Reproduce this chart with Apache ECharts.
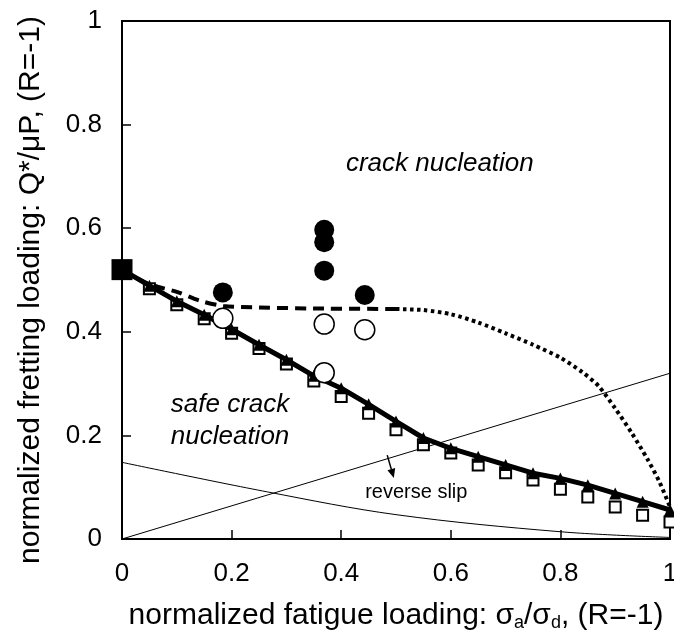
<!DOCTYPE html>
<html>
<head>
<meta charset="utf-8">
<script src="https://cdn.jsdelivr.net/npm/echarts@6/dist/echarts.min.js"></script>
<style>html,body{margin:0;padding:0;background:#fff}#c{width:674px;height:642px}</style>
</head>
<body>
<div id="c"></div>
<script>
// ---- data ----
const xGrid = [0,0.05,0.1,0.15,0.2,0.25,0.3,0.35,0.4,0.45,0.5,0.55,0.6,0.65,0.7,0.75,0.8,0.85,0.9,0.95,1.0];
const triangleY = [0.52,0.489,0.459,0.433,0.405,0.375,0.346,0.315,0.291,0.26,0.227,0.195,0.175,0.159,0.143,0.127,0.117,0.104,0.088,0.072,0.056];
const squareX = [0.05,0.1,0.15,0.2,0.25,0.3,0.35,0.4,0.45,0.5,0.55,0.6,0.65,0.7,0.75,0.8,0.85,0.9,0.95,1.0];
const squareY = [0.483,0.452,0.425,0.397,0.368,0.338,0.305,0.275,0.243,0.211,0.182,0.166,0.143,0.128,0.114,0.096,0.081,0.062,0.046,0.033];
const startPoint = [[0, 0.52]];
const dashedX = [0,0.05,0.1,0.142,0.185,0.25,0.35,0.5];
const dashedY = [0.52,0.492,0.477,0.46,0.45,0.447,0.445,0.444];
const dottedX = [0.5,0.55,0.6,0.65,0.7,0.75,0.8,0.84,0.87,0.9,0.93,0.96,0.98,1.0];
const dottedY = [0.444,0.442,0.434,0.418,0.397,0.375,0.35,0.322,0.295,0.252,0.205,0.152,0.112,0.062];
const filledCircles = [[0.184,0.476],[0.369,0.597],[0.369,0.573],[0.369,0.518],[0.443,0.471]];
const openCircles = [[0.184,0.426],[0.369,0.415],[0.443,0.404],[0.369,0.321]];
const thinRisingX = [0,1];
const thinRisingY = [0,0.32];
const thinFallingX = [0,0.265,0.5,0.8,1];
const thinFallingY = [0.148,0.091,0.047,0.014,0.003];
const xTicks = ['0','0.2','0.4','0.6','0.8','1'];
const yTicks = ['0','0.2','0.4','0.6','0.8','1'];

const zip = (xs, ys) => xs.map((x, i) => [x, ys[i]]);
const FONT = '"Liberation Sans", Arial, Helvetica, sans-serif';

const chart = echarts.init(document.getElementById('c'), null, {renderer: 'canvas'});
const option = {
  animation: false,
  backgroundColor: '#fff',
  grid: {left: 122, right: 4, top: 21, bottom: 103, show: true, borderColor: '#000', borderWidth: 2,
    containLabel: false, outerBoundsMode: 'none'},
  xAxis: {
    type: 'value', min: 0, max: 1, interval: 0.2,
    axisLine: {show: true, lineStyle: {color: '#000', width: 2}},
    axisTick: {show: true, inside: true, length: 9, lineStyle: {color: '#000', width: 1.5}},
    splitLine: {show: false},
    axisLabel: {color: '#000', fontSize: 26, fontFamily: FONT, margin: 22, hideOverlap: false,
      formatter: v => xTicks[Math.round(v / 0.2)]},
    name: 'normalized fatigue loading: {s|σ}{sub|a}{t|/}{s|σ}{sub|d}{t|, (R=-1)}',
    nameLocation: 'middle', nameGap: 60,
    nameTextStyle: {color: '#000', fontSize: 30, fontFamily: FONT,
      rich: {
        s: {fontSize: 30, fontFamily: FONT, color: '#000'},
        t: {fontSize: 30, fontFamily: FONT, color: '#000'},
        sub: {fontSize: 18, fontFamily: FONT, color: '#000', padding: [15, 0, 0, 0]}
      }}
  },
  yAxis: {
    type: 'value', min: 0, max: 1, interval: 0.2,
    axisLine: {show: true, lineStyle: {color: '#000', width: 2}},
    axisTick: {show: true, inside: true, length: 9, lineStyle: {color: '#000', width: 1.5}},
    splitLine: {show: false},
    axisLabel: {color: '#000', fontSize: 26, fontFamily: FONT, margin: 20,
      formatter: v => yTicks[Math.round(v / 0.2)]},
    name: 'normalized fretting loading: Q*/μP, (R=-1)',
    nameLocation: 'middle', nameGap: 76, nameRotate: 90,
    nameTextStyle: {color: '#000', fontSize: 30, fontFamily: FONT, padding: [0, 20, 0, 0]}
  },
  series: [
    {type: 'line', data: zip(thinRisingX, thinRisingY), symbol: 'none', z: 1,
      lineStyle: {color: '#000', width: 1}},
    {type: 'line', data: zip(thinFallingX, thinFallingY), symbol: 'none', smooth: 0.35, z: 1,
      lineStyle: {color: '#000', width: 1}},
    {type: 'line', data: zip(dashedX, dashedY), symbol: 'none', smooth: 0.3, z: 2,
      lineStyle: {color: '#000', width: 4, type: [11, 7]}},
    {type: 'line', data: zip(dottedX, dottedY), symbol: 'none', smooth: 0.25, z: 2,
      lineStyle: {color: '#000', width: 4, type: [3.5, 3.5]}},
    {type: 'scatter', data: zip(squareX, squareY), symbol: 'rect', symbolSize: 11, z: 3,
      itemStyle: {color: '#fff', borderColor: '#000', borderWidth: 2, opacity: 1}},
    {type: 'line', data: zip(xGrid, triangleY), symbol: 'triangle', symbolSize: 12, showAllSymbol: true, z: 4,
      lineStyle: {color: '#000', width: 5}, itemStyle: {color: '#000', borderWidth: 0, opacity: 1}},
    {type: 'scatter', data: startPoint, symbol: 'rect', symbolSize: 21, z: 5,
      itemStyle: {color: '#000', opacity: 1}},
    {type: 'scatter', data: filledCircles, symbol: 'circle', symbolSize: 20, z: 5,
      itemStyle: {color: '#000', opacity: 1}},
    {type: 'scatter', data: openCircles, symbol: 'circle', symbolSize: 20, z: 5,
      itemStyle: {color: '#fff', borderColor: '#000', borderWidth: 1.5, opacity: 1}}
  ]
};
chart.setOption(option);

// annotations placed in data coordinates
const P = (x, y) => chart.convertToPixel({gridIndex: 0}, [x, y]);
const a0 = P(0.484, 0.162), a1 = P(0.496, 0.118);
const ang = Math.atan2(a1[1] - a0[1], a1[0] - a0[0]);
const hl = 9, hw = 4;
const tip = a1;
const base = [tip[0] - hl * Math.cos(ang), tip[1] - hl * Math.sin(ang)];
const left = [base[0] + hw * Math.sin(ang), base[1] - hw * Math.cos(ang)];
const right = [base[0] - hw * Math.sin(ang), base[1] + hw * Math.cos(ang)];
const cn = P(0.58, 0.725), sc1 = P(0.089, 0.259), sc2 = P(0.089, 0.198), rs = P(0.537, 0.089);
chart.setOption({
  graphic: [
    {type: 'text', x: cn[0], y: cn[1], z: 10, style: {text: 'crack nucleation', font: 'italic 26px ' + FONT, fill: '#000', align: 'center', verticalAlign: 'middle'}},
    {type: 'text', x: sc1[0], y: sc1[1], z: 10, style: {text: 'safe crack', font: 'italic 26px ' + FONT, fill: '#000', align: 'left', verticalAlign: 'middle'}},
    {type: 'text', x: sc2[0], y: sc2[1], z: 10, style: {text: 'nucleation', font: 'italic 26px ' + FONT, fill: '#000', align: 'left', verticalAlign: 'middle'}},
    {type: 'text', x: rs[0], y: rs[1], z: 10, style: {text: 'reverse slip', font: '20px ' + FONT, fill: '#000', align: 'center', verticalAlign: 'middle'}},
    {type: 'line', z: 10, shape: {x1: a0[0], y1: a0[1], x2: base[0], y2: base[1]}, style: {stroke: '#000', lineWidth: 1.5}},
    {type: 'polygon', z: 10, shape: {points: [tip, left, right]}, style: {fill: '#000'}}
  ]
});
</script>
</body>
</html>
